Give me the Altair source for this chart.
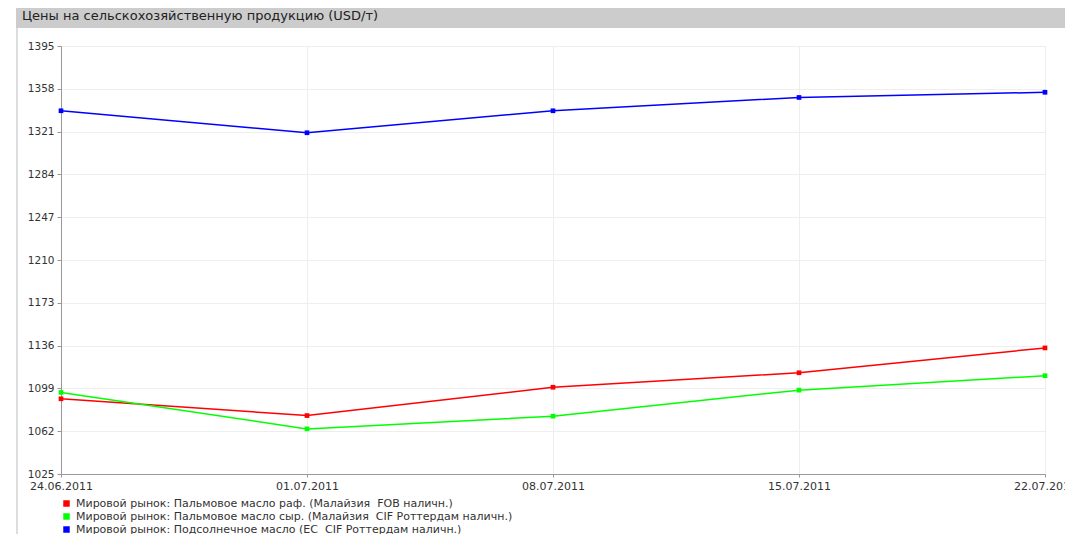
import altair as alt
import pandas as pd

dates = ["24.06.2011", "01.07.2011", "08.07.2011", "15.07.2011", "22.07.2011"]
series_names = [
    "Мировой рынок: Пальмовое масло раф. (Малайзия\u00a0 FOB наличн.)",
    "Мировой рынок: Пальмовое масло сыр. (Малайзия\u00a0 CIF Роттердам наличн.)",
    "Мировой рынок: Подсолнечное масло (ЕС\u00a0 CIF Роттердам наличн.)",
]
palm_refined = [1090, 1075.5, 1100, 1112.5, 1134]
palm_crude = [1095.5, 1064, 1075, 1097.5, 1110]
sunflower = [1339, 1320, 1339, 1350.5, 1355]
y_ticks = [1025, 1062, 1099, 1136, 1173, 1210, 1247, 1284, 1321, 1358, 1395]
colors = ["#ff0000", "#00ff00", "#0000ff"]
title_text = "Цены на сельскохозяйственную продукцию (USD/т)"

rows = []
for name, vals in zip(series_names, [palm_refined, palm_crude, sunflower]):
    for d, v in zip(dates, vals):
        rows.append({"date": d, "series": name, "value": v})
df = pd.DataFrame(rows)

FONT = "DejaVu Sans"

x_enc = alt.X(
    "date:O",
    sort=dates,
    scale=alt.Scale(type="point", padding=0),
    axis=alt.Axis(
        title=None, labelAngle=0, labelFontSize=11, labelColor="#333333",
        labelFont=FONT, tickSize=3, labelPadding=3, tickColor="#999999",
        domainColor="#999999", gridColor="#eeeeee", grid=True,
    ),
)
y_enc = alt.Y(
    "value:Q",
    scale=alt.Scale(domain=[1025, 1395], nice=False, zero=False),
    axis=alt.Axis(
        title=None, values=y_ticks, format="d", labelFontSize=10.5,
        labelColor="#333333", labelFont=FONT, tickSize=4, labelPadding=3,
        tickColor="#999999", domainColor="#999999", gridColor="#eeeeee",
        grid=True,
    ),
)
color_scale = alt.Scale(domain=series_names, range=colors)

lines = alt.Chart(df).mark_line(strokeWidth=1.5).encode(
    x=x_enc, y=y_enc,
    stroke=alt.Stroke("series:N", scale=color_scale, legend=None),
)
points = alt.Chart(df).mark_square(size=22, opacity=1, filled=True).encode(
    x=x_enc, y=y_enc,
    fill=alt.Fill(
        "series:N", scale=color_scale, sort=series_names,
        legend=alt.Legend(
            title=None, orient="none", legendX=0, legendY=452,
            symbolType="square", symbolSize=42, labelFontSize=11,
            labelFont=FONT, labelColor="#333333", rowPadding=1,
            labelOffset=4, padding=0, labelLimit=800, symbolStrokeWidth=0,
        ),
    ),
)

deco = pd.DataFrame({"t": [title_text]})
header = alt.Chart(deco).mark_rect(color="#cccccc").encode(
    x=alt.value(-45), x2=alt.value(1040), y=alt.value(-42), y2=alt.value(-18)
)
header_text = alt.Chart(deco).mark_text(
    align="left", baseline="middle", fontSize=13, font=FONT, color="#222222"
).encode(x=alt.value(-39), y=alt.value(-30), text="t:N")
border = alt.Chart(deco).mark_rule(color="#bbbbbb", strokeWidth=1).encode(
    x=alt.value(-44), y=alt.value(-18), y2=alt.value(500)
)

chart = alt.layer(header, header_text, border, lines, points).resolve_scale(
    stroke="independent", fill="independent"
).properties(
    width=984, height=428,
    autosize=alt.AutoSizeParams(type="none"),
    padding={"left": 53, "top": 38, "right": 20, "bottom": 60},
).configure_view(stroke="#eeeeee").configure(background="white")

chart.save("out.html", embed_options={"renderer": "svg", "actions": False})
